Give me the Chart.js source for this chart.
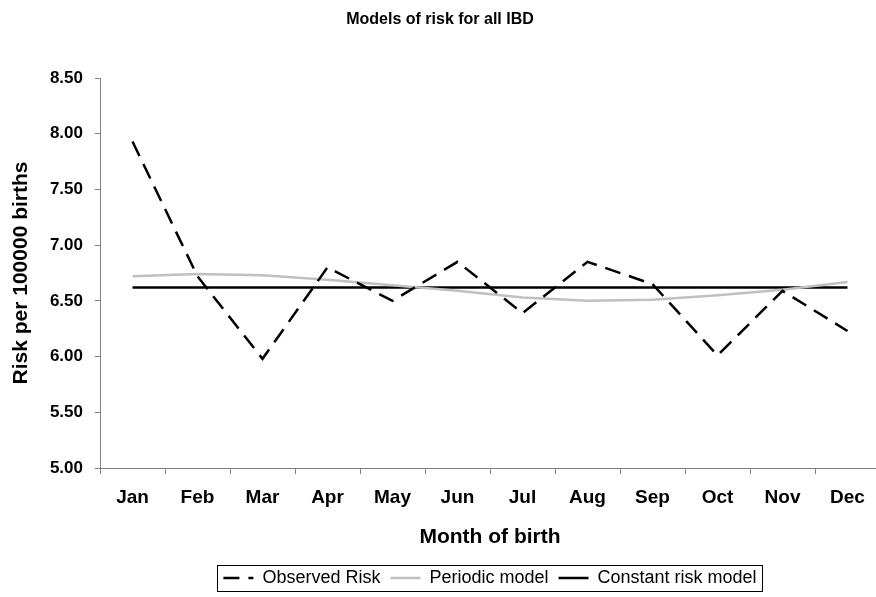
<!DOCTYPE html>
<html lang="en">
<head>
<meta charset="UTF-8">
<title>Models of risk for all IBD</title>
<script src="https://cdn.jsdelivr.net/npm/chart.js"></script>
<style>
  body { margin: 0; background: #fff; overflow: hidden; }
</style>
</head>
<body>
<canvas id="myChart" width="880" height="597"></canvas>
<script>
// values
const months = ['Jan', 'Feb', 'Mar', 'Apr', 'May', 'Jun', 'Jul', 'Aug', 'Sep', 'Oct', 'Nov', 'Dec'];
const observedRisk = [7.93, 6.72, 5.98, 6.80, 6.50, 6.85, 6.39, 6.85, 6.65, 6.01, 6.59, 6.23];
const periodicModel = [6.72, 6.74, 6.73, 6.69, 6.64, 6.59, 6.53, 6.50, 6.51, 6.55, 6.60, 6.67];
const constantRisk = [6.62, 6.62, 6.62, 6.62, 6.62, 6.62, 6.62, 6.62, 6.62, 6.62, 6.62, 6.62];
const yMin = 5.0;
const yMax = 8.5;
const yStep = 0.5;

const axisGray = '#808080';
Chart.defaults.font.family = '"Liberation Sans", Arial, sans-serif';
Chart.defaults.color = '#000';

// box round the legend, as in the original
const legendBorder = {
    id: 'legendBorder',
    afterDraw(chart) {
        const boxes = chart.legend.legendHitBoxes;
        if (!boxes || !boxes.length) return;
        const left = Math.min(...boxes.map(b => b.left)) - 6;
        const right = Math.max(...boxes.map(b => b.left + b.width)) + 6;
        const top = boxes[0].top - 4;
        const bottom = boxes[0].top + boxes[0].height + 4;
        const ctx = chart.ctx;
        ctx.save();
        ctx.strokeStyle = '#000';
        ctx.lineWidth = 1;
        ctx.strokeRect(Math.round(left) + 0.5, Math.round(top) + 0.5, Math.round(right - left), Math.round(bottom - top));
        ctx.restore();
    }
};

const ctx = document.getElementById('myChart');
new Chart(ctx, {
    type: 'line',
    data: {
        labels: months,
        datasets: [{
            label: 'Observed Risk',
            data: observedRisk,
            borderColor: '#000',
            borderWidth: 2.5,
            borderDash: [16, 9],
            pointRadius: 0,
            tension: 0
        }, {
            label: 'Periodic model',
            data: periodicModel,
            borderColor: '#c0c0c0',
            borderWidth: 2.5,
            pointRadius: 0,
            tension: 0
        }, {
            label: 'Constant risk model',
            data: constantRisk,
            borderColor: '#000',
            borderWidth: 2.5,
            pointRadius: 0,
            tension: 0
        }]
    },
    options: {
        responsive: false,
        animation: false,
        layout: { padding: 0 },
        plugins: {
            title: {
                display: true,
                text: 'Models of risk for all IBD',
                font: { size: 16, weight: 'bold' },
                color: '#000',
                padding: { top: 10, bottom: 48.8 }
            },
            legend: {
                position: 'bottom',
                fullSize: false,
                labels: {
                    usePointStyle: true,
                    pointStyle: 'line',
                    pointStyleWidth: 30,
                    font: { size: 18 },
                    color: '#000',
                    padding: 10,
                    // keep the dataset line style in the legend samples
                    generateLabels(chart) {
                        const items = Chart.defaults.plugins.legend.labels.generateLabels(chart);
                        items.forEach((item, i) => {
                            const ds = chart.data.datasets[i];
                            item.lineDash = ds.borderDash || [];
                            item.lineWidth = ds.borderWidth;
                            item.strokeStyle = ds.borderColor;
                        });
                        return items;
                    }
                }
            },
            tooltip: { enabled: false }
        },
        scales: {
            x: {
                offset: true,
                grid: {
                    offset: true,
                    drawOnChartArea: false,
                    drawTicks: true,
                    tickLength: 6,
                    color: axisGray
                },
                border: { color: axisGray, width: 1 },
                ticks: {
                    font: { size: 19, weight: 'bold' },
                    color: '#000',
                    padding: 12,
                    maxRotation: 0
                },
                title: {
                    display: true,
                    text: 'Month of birth',
                    font: { size: 21, weight: 'bold' },
                    color: '#000',
                    padding: { top: 4, bottom: 9 }
                },
                afterFit(scale) { scale.height = 91; }
            },
            y: {
                min: yMin,
                max: yMax,
                grid: {
                    drawOnChartArea: false,
                    drawTicks: true,
                    tickLength: 5,
                    color: axisGray
                },
                border: { color: axisGray, width: 1 },
                ticks: {
                    stepSize: yStep,
                    font: { size: 17, weight: 'bold' },
                    color: '#000',
                    padding: 12,
                    callback: v => Number(v).toFixed(2)
                },
                title: {
                    display: true,
                    text: 'Risk per 100000 births',
                    font: { size: 21, weight: 'bold' },
                    color: '#000',
                    padding: { top: 9, bottom: 4 }
                },
                afterFit(scale) { scale.width = 100; }
            }
        }
    },
    plugins: [legendBorder]
});
</script>
</body>
</html>
